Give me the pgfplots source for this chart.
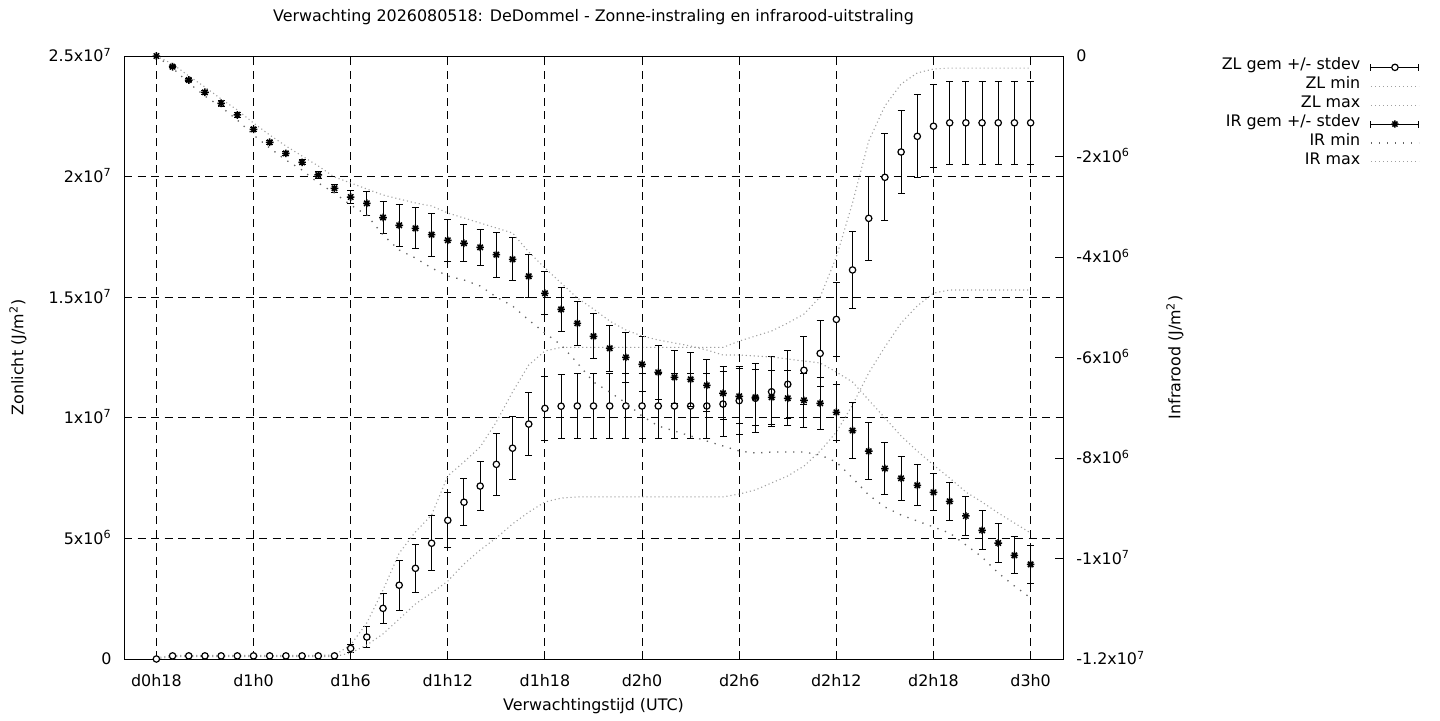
\documentclass[border=0pt]{standalone}
\usepackage{pgfplots}
\pgfplotsset{compat=1.18}
\usepackage{pgfplotstable}
\usepackage{fontspec}
\setmainfont{DejaVu Sans}

\pgfdeclareplotmark{gstar}{%
  \pgfpathmoveto{\pgfqpoint{-\pgfplotmarksize}{0pt}}\pgfpathlineto{\pgfqpoint{\pgfplotmarksize}{0pt}}%
  \pgfpathmoveto{\pgfqpoint{0pt}{-\pgfplotmarksize}}\pgfpathlineto{\pgfqpoint{0pt}{\pgfplotmarksize}}%
  \pgfpathmoveto{\pgfqpoint{-0.707\pgfplotmarksize}{-0.707\pgfplotmarksize}}\pgfpathlineto{\pgfqpoint{0.707\pgfplotmarksize}{0.707\pgfplotmarksize}}%
  \pgfpathmoveto{\pgfqpoint{-0.707\pgfplotmarksize}{0.707\pgfplotmarksize}}\pgfpathlineto{\pgfqpoint{0.707\pgfplotmarksize}{-0.707\pgfplotmarksize}}%
  \pgfusepathqstroke}

\pgfplotstableread{
h zl zlsd zlmin zlmax
18 0 0 0 0.05e6
19 0.13e6 0.02e6 0.10e6 0.15e6
20 0.13e6 0.02e6 0.10e6 0.15e6
21 0.13e6 0.02e6 0.10e6 0.15e6
22 0.13e6 0.02e6 0.10e6 0.15e6
23 0.13e6 0.02e6 0.10e6 0.15e6
24 0.13e6 0.02e6 0.10e6 0.15e6
25 0.13e6 0.02e6 0.10e6 0.15e6
26 0.13e6 0.02e6 0.10e6 0.15e6
27 0.13e6 0.02e6 0.10e6 0.15e6
28 0.13e6 0.02e6 0.10e6 0.15e6
29 0.13e6 0.02e6 0.10e6 0.16e6
30 0.44e6 0.15e6 0.25e6 0.58e6
31 0.91e6 0.43e6 0.58e6 1.50e6
32 2.10e6 0.62e6 1.04e6 2.86e6
33 3.06e6 1.04e6 1.66e6 4.39e6
34 3.76e6 0.99e6 2.28e6 5.27e6
35 4.80e6 1.13e6 2.74e6 5.97e6
36 5.75e6 1.14e6 3.23e6 7.59e6
37 6.50e6 0.97e6 3.94e6 8.17e6
38 7.17e6 1.02e6 4.52e6 8.79e6
39 8.07e6 1.29e6 5.02e6 9.83e6
40 8.74e6 1.30e6 5.60e6 11.07e6
41 9.74e6 1.31e6 6.09e6 12.19e6
42 10.39e6 1.32e6 6.51e6 12.77e6
43 10.48e6 1.33e6 6.67e6 12.92e6
44 10.49e6 1.33e6 6.72e6 12.92e6
45 10.49e6 1.33e6 6.72e6 12.92e6
46 10.49e6 1.33e6 6.72e6 12.92e6
47 10.49e6 1.33e6 6.72e6 12.92e6
48 10.49e6 1.33e6 6.72e6 12.92e6
49 10.49e6 1.33e6 6.72e6 12.92e6
50 10.49e6 1.33e6 6.72e6 12.92e6
51 10.49e6 1.33e6 6.72e6 12.92e6
52 10.49e6 1.33e6 6.72e6 12.92e6
53 10.57e6 1.33e6 6.72e6 12.92e6
54 10.71e6 1.42e6 6.84e6 13.18e6
55 10.81e6 1.43e6 7.01e6 13.39e6
56 11.08e6 1.45e6 7.30e6 13.60e6
57 11.39e6 1.41e6 7.59e6 13.93e6
58 11.97e6 1.40e6 8.00e6 14.30e6
59 12.67e6 1.38e6 8.62e6 15.01e6
60 14.08e6 1.53e6 9.41e6 16.67e6
61 16.13e6 1.60e6 10.53e6 18.91e6
62 18.27e6 1.75e6 11.86e6 21.48e6
63 19.97e6 1.80e6 12.94e6 22.93e6
64 21.02e6 1.71e6 13.93e6 23.84e6
65 21.67e6 1.72e6 14.64e6 24.30e6
66 22.09e6 1.71e6 15.17e6 24.46e6
67 22.23e6 1.71e6 15.30e6 24.50e6
68 22.23e6 1.71e6 15.30e6 24.50e6
69 22.23e6 1.71e6 15.30e6 24.50e6
70 22.23e6 1.71e6 15.30e6 24.50e6
71 22.23e6 1.71e6 15.30e6 24.50e6
72 22.23e6 1.71e6 15.30e6 24.50e6
}\zltable

\pgfplotstableread{
h ir irsd irmin irmax
18 0 0.01e6 0 0
19 -0.213e6 0.02e6 -0.239e6 -0.159e6
20 -0.478e6 0.03e6 -0.537e6 -0.398e6
21 -0.722e6 0.04e6 -0.796e6 -0.617e6
22 -0.941e6 0.06e6 -1.015e6 -0.856e6
23 -1.174e6 0.04e6 -1.274e6 -1.075e6
24 -1.459e6 0.04e6 -1.572e6 -1.333e6
25 -1.717e6 0.04e6 -1.831e6 -1.572e6
26 -1.937e6 0.04e6 -2.070e6 -1.791e6
27 -2.116e6 0.05e6 -2.269e6 -1.990e6
28 -2.368e6 0.07e6 -2.527e6 -2.189e6
29 -2.633e6 0.08e6 -2.726e6 -2.408e6
30 -2.806e6 0.13e6 -2.965e6 -2.527e6
31 -2.931e6 0.24e6 -3.164e6 -2.647e6
32 -3.214e6 0.31e6 -3.562e6 -2.766e6
33 -3.369e6 0.42e6 -3.861e6 -2.846e6
34 -3.429e6 0.41e6 -4.020e6 -2.925e6
35 -3.556e6 0.43e6 -4.219e6 -2.985e6
36 -3.668e6 0.42e6 -4.378e6 -3.124e6
37 -3.727e6 0.37e6 -4.458e6 -3.224e6
38 -3.807e6 0.36e6 -4.577e6 -3.323e6
39 -3.954e6 0.45e6 -4.796e6 -3.423e6
40 -4.046e6 0.43e6 -4.975e6 -3.522e6
41 -4.384e6 0.43e6 -5.254e6 -3.900e6
42 -4.722e6 0.43e6 -5.512e6 -4.219e6
43 -5.041e6 0.44e6 -5.751e6 -4.517e6
44 -5.320e6 0.44e6 -6.109e6 -4.816e6
45 -5.578e6 0.45e6 -6.488e6 -5.035e6
46 -5.817e6 0.46e6 -6.687e6 -5.274e6
47 -5.996e6 0.50e6 -6.905e6 -5.453e6
48 -6.135e6 0.55e6 -7.164e6 -5.572e6
49 -6.295e6 0.54e6 -7.363e6 -5.652e6
50 -6.394e6 0.53e6 -7.463e6 -5.711e6
51 -6.434e6 0.54e6 -7.562e6 -5.771e6
52 -6.553e6 0.52e6 -7.662e6 -5.851e6
53 -6.712e6 0.53e6 -7.761e6 -5.950e6
54 -6.772e6 0.55e6 -7.861e6 -5.950e6
55 -6.792e6 0.56e6 -7.901e6 -5.970e6
56 -6.792e6 0.54e6 -7.881e6 -5.990e6
57 -6.812e6 0.55e6 -7.881e6 -6.030e6
58 -6.852e6 0.54e6 -7.881e6 -6.070e6
59 -6.911e6 0.52e6 -7.940e6 -6.109e6
60 -7.090e6 0.56e6 -8.080e6 -6.289e6
61 -7.453e6 0.56e6 -8.398e6 -6.488e6
62 -7.865e6 0.57e6 -8.736e6 -6.846e6
63 -8.209e6 0.52e6 -8.975e6 -7.204e6
64 -8.404e6 0.44e6 -9.134e6 -7.562e6
65 -8.543e6 0.41e6 -9.254e6 -7.861e6
66 -8.683e6 0.37e6 -9.373e6 -8.139e6
67 -8.862e6 0.38e6 -9.493e6 -8.398e6
68 -9.154e6 0.39e6 -9.731e6 -8.677e6
69 -9.439e6 0.39e6 -9.970e6 -8.876e6
70 -9.692e6 0.38e6 -10.289e6 -9.095e6
71 -9.937e6 0.37e6 -10.547e6 -9.294e6
72 -10.116e6 0.38e6 -10.786e6 -9.493e6
}\irtable

\definecolor{finedot}{RGB}{160,160,160}
\definecolor{sparsedot}{RGB}{100,100,100}

\pgfplotsset{
  every axis/.append style={font=\fontsize{7.95}{9.5}\selectfont},
  gbase/.style={
    at={(62pt,30.5pt)}, anchor=south west,
    scale only axis, width=469.5pt, height=301.5pt,
    xmin=16, xmax=74,
    tick align=inside, major tick length=4pt,
    every tick/.style={black, line width=0.5pt},
    axis line style={black, line width=0.5pt},
    scaled y ticks=false,
  },
  fine/.style={finedot, line width=0.55pt, dash pattern=on 0.55pt off 1.45pt, no marks},
  sparse/.style={sparsedot, line width=0.65pt, dash pattern=on 0.65pt off 3.35pt, no marks},
}

\begin{document}
\begin{tikzpicture}
\useasboundingbox (0,0) rectangle (720pt,360pt);
\begin{axis}[gbase,
  ymin=0, ymax=25e6,
  xtick={18,24,...,72},
  xticklabels={d0h18,d1h0,d1h6,d1h12,d1h18,d2h0,d2h6,d2h12,d2h18,d3h0},
  xtick pos=both,
  ytick={0,5e6,10e6,15e6,20e6,25e6},
  yticklabels={0,5x10\textsuperscript{6},1x10\textsuperscript{7},1.5x10\textsuperscript{7},2x10\textsuperscript{7},2.5x10\textsuperscript{7}},
  ytick pos=left,
  xticklabel style={anchor=base, yshift=-13.5pt, inner sep=0pt},
  yticklabel style={anchor=base east, xshift=-6pt, yshift=-2.9pt, inner sep=0pt},
  grid=major,
  major grid style={black, line width=0.5pt, dash pattern=on 4pt off 2.75pt},
  title={Verwachting 2026080518: DeDommel - Zonne-instraling en infrarood-uitstraling},
  title style={at={(axis description cs:0.5,1.0448)}, anchor=center, inner sep=0pt},
  xlabel={Verwachtingstijd (UTC)},
  xlabel style={at={(axis description cs:0.5,-0.0779)}, anchor=center, inner sep=0pt},
  ylabel={Zonlicht (J/m\textsuperscript{2})},
  ylabel style={at={(axis description cs:-0.1129,0.5)}, anchor=center, inner sep=0pt},
]
\addplot[black, line width=0.5pt, only marks, mark=*, mark size=1.6pt,
  mark options={fill=white, draw=black, line width=0.6pt},
  error bars/.cd, y dir=both, y explicit,
  error bar style={black, line width=0.5pt},
  error mark options={black, line width=0.5pt, mark size=1.75pt, rotate=90}]
  table[x=h, y=zl, y error=zlsd] {\zltable};
\addplot[fine] table[x=h, y=zlmin] {\zltable};
\addplot[fine] table[x=h, y=zlmax] {\zltable};
\end{axis}

\begin{axis}[gbase,
  ymin=-12e6, ymax=0,
  axis x line=none,
  axis y line*=right,
  ytick={-12e6,-10e6,-8e6,-6e6,-4e6,-2e6,0},
  yticklabels={-1.2x10\textsuperscript{7},-1x10\textsuperscript{7},-8x10\textsuperscript{6},-6x10\textsuperscript{6},-4x10\textsuperscript{6},-2x10\textsuperscript{6},0},
  yticklabel style={anchor=base west, xshift=6.5pt, yshift=-2.9pt, inner sep=0pt},
  ylabel={Infrarood (J/m\textsuperscript{2})},
  ylabel style={at={(axis description cs:1.1193,0.5)}, anchor=center, inner sep=0pt, rotate=0},
  legend plot pos=right,
  legend cell align=right,
  legend style={draw=none, fill=none, at={(axis description cs:1.3802,0.9975)}, anchor=north east,
    inner sep=0pt, row sep=0pt, column sep=5pt,
    nodes={inner sep=0pt, text height=6pt, text depth=3.45pt}},
]
\addlegendimage{legend image code/.code={
   \draw[black,line width=0.5pt] (0pt,0pt) -- (24pt,0pt);
   \draw[black,line width=0.5pt] (0pt,-1.75pt) -- (0pt,1.75pt);
   \draw[black,line width=0.5pt] (24pt,-1.75pt) -- (24pt,1.75pt);
   \draw[black,line width=0.6pt, mark=*, mark size=1.6pt, mark options={fill=white,draw=black}] plot coordinates {(12pt,0pt)};}}
\addlegendentry{ZL gem +/- stdev}
\addlegendimage{legend image code/.code={\draw[finedot, line width=0.55pt, dash pattern=on 0.55pt off 1.45pt] (0pt,0pt) -- (24pt,0pt);}}
\addlegendentry{ZL min}
\addlegendimage{legend image code/.code={\draw[finedot, line width=0.55pt, dash pattern=on 0.55pt off 1.45pt] (0pt,0pt) -- (24pt,0pt);}}
\addlegendentry{ZL max}
\addplot[black, line width=0.5pt, only marks, mark=gstar, mark size=1.9pt,
  mark options={black, line width=0.75pt},
  error bars/.cd, y dir=both, y explicit,
  error bar style={black, line width=0.5pt},
  error mark options={black, line width=0.5pt, mark size=1.75pt, rotate=90},
  /pgfplots/legend image code/.code={
   \draw[black,line width=0.5pt] (0pt,0pt) -- (24pt,0pt);
   \draw[black,line width=0.5pt] (0pt,-1.75pt) -- (0pt,1.75pt);
   \draw[black,line width=0.5pt] (24pt,-1.75pt) -- (24pt,1.75pt);
   \draw[black,line width=0.7pt, mark=gstar, mark size=1.8pt] plot coordinates {(12pt,0pt)};}]
  table[x=h, y=ir, y error=irsd] {\irtable};
\addlegendentry{IR gem +/- stdev}
\addplot[sparse, legend image code/.code={\draw[sparsedot, line width=0.65pt, dash pattern=on 0.65pt off 3.35pt] (0pt,0pt) -- (24pt,0pt);}] table[x=h, y=irmin] {\irtable};
\addlegendentry{IR min}
\addplot[fine, legend image code/.code={\draw[finedot, line width=0.55pt, dash pattern=on 0.55pt off 1.45pt] (0pt,0pt) -- (24pt,0pt);}] table[x=h, y=irmax] {\irtable};
\addlegendentry{IR max}
\end{axis}
\end{tikzpicture}
\end{document}
